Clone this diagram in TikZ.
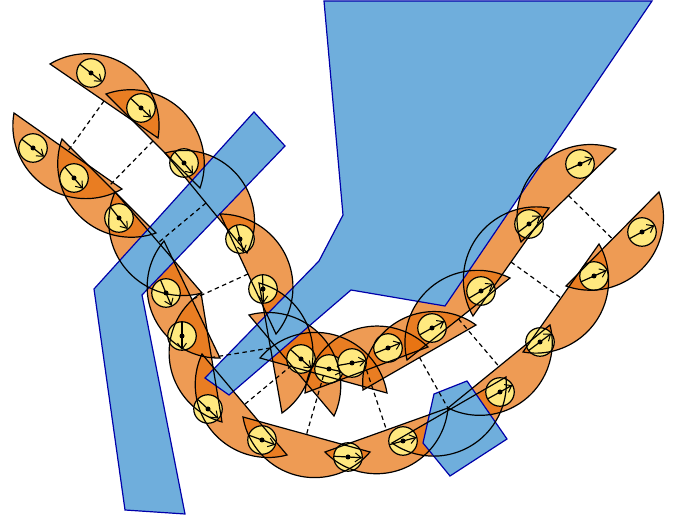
\documentclass[tikz,border=0pt]{standalone}
\usetikzlibrary{arrows.meta,calc}
\definecolor{wingfill}{RGB}{231,112,12}
\definecolor{wallfill}{RGB}{111,174,220}
\definecolor{walledge}{RGB}{0,0,170}
\definecolor{discfill}{RGB}{255,233,127}
\tikzset{
  wingarea/.style={fill=wingfill,fill opacity=.7,draw=none},
  wingline/.style={draw=black,line width=1.2pt,line join=miter,fill=none},
  wall/.style={fill=wallfill,draw=walledge,line width=1.2pt,line join=miter},
  disc/.style={circle,draw=black,line width=1.2pt,fill=discfill,minimum size=28.5pt,inner sep=0pt},
  hub/.style={circle,fill=black,minimum size=5pt,inner sep=0pt},
  needle/.style={draw=black,line width=1.2pt,-{Straight Barb[length=6pt,width=9pt,line width=1pt]}},
  rung/.style={draw=black,line width=1.2pt,dash pattern=on 4.5pt off 3.5pt}
}
\newcommand{\wingpath}[6]{% style, x1,y1,x2,y2, side(+1 left,-1 right)
  \pgfmathsetmacro\wXa{#2}\pgfmathsetmacro\wYa{516-#3}%
  \pgfmathsetmacro\wXb{#4}\pgfmathsetmacro\wYb{516-#5}%
  \pgfmathsetmacro\wC{veclen(\wXb-\wXa,\wYb-\wYa)}%
  \pgfmathsetmacro\wD{atan2(\wYb-\wYa,\wXb-\wXa)}%
  \pgfmathsetmacro\wT{2*atan(2*42/\wC)}%
  \pgfmathsetmacro\wR{\wC/(2*sin(\wT))}%
  \pgfmathsetmacro\wS{\wD+(#6)*(90+\wT)}%
  \pgfmathsetmacro\wE{\wD+(#6)*(90-\wT)}%
  \path[#1] (\wXa,\wYa) arc[start angle=\wS,end angle=\wE,radius=\wR] -- cycle;%
}
\newcommand{\wings}[1]{%
  \foreach \xa/\ya/\xb/\yb/\s in {
    50/64/158/138/1,106/94/200/188/1,165/153/247/253/1,220/214/276/334/1,
    259/283/282/413/1,249/315/334/416/1,260/358/387/393/1,305/393/428/347/1,
    363/390/476/325/1,407/360/510/278/1,473/316/549/208/1,521/242/616/149/1,
    14/113/122/189/-1,62/139/156/233/-1,115/192/202/293/-1,164/241/220/358/-1,
    201/293/222/422/-1,202/354/287/455/-1,243/417/370/452/-1,325/452/448/408/-1,
    392/443/506/377/-1,448/408/550/325/-1,523/352/599/244/-1,566/286/659/192/-1}
    {\wingpath{#1}{\xa}{\ya}{\xb}{\yb}{\s}}%
}
\begin{document}
\begin{tikzpicture}[x=1pt,y=1pt]
\useasboundingbox (0,0) rectangle (685,516);
% fills
\wings{wingarea}
% walls
\draw[wall] (324,515) -- (652,515) -- (445,210) -- (351,226) -- (229,121) -- (205,138) -- (319,255) -- (343,301) -- cycle;
\draw[wall] (254,404) -- (285,370) -- (142,221) -- (185,2) -- (125,6) -- (94,227) -- cycle;
\draw[wall] (467,135) -- (507,77) -- (450,40) -- (423,73) -- (434,122) -- cycle;
% discs
\foreach \n/\x/\y/\a in {
  a1/91/73/38,a2/141/108/43,a3/184/163/50,a4/240/239/75,a5/263/289/88,a6/301/359/42,
  a7/329/369/12,a8/352/363/-10,a9/388/348/-22,a10/432/328/-29,a11/481/291/-31,a12/529/224/-37,a13/580/164/-25,
  b1/33/148/38,b2/74/178/50,b3/119/218/52,b4/166/293/67,b5/182/336/90,b6/208/409/43,
  b7/262/440/20,b8/348/457/3,b9/403/441/-15,b10/500/392/-29,b11/540/342/-37,b12/594/276/-24,b13/642/232/-28}
{
  \pgfmathsetmacro\py{516-\y}
  \node[disc] (\n) at (\x,\py) {};
  \draw[needle] ($(\x,\py)+(-\a+180:14)$) -- ($(\x,\py)+(-\a:14)$);
  \node[hub] (\n h) at (\x,\py) {};
}
% outlines
\wings{wingline}
% rungs between chord midpoints
\foreach \xa/\ya/\xb/\yb/\xc/\yc/\xd/\yd in {
  50/64/158/138/14/113/122/189,106/94/200/188/62/139/156/233,165/153/247/253/115/192/202/293,
  220/214/276/334/164/241/220/358,259/283/282/413/201/293/222/422,249/315/334/416/202/354/287/455,
  260/358/387/393/243/417/370/452,305/393/428/347/325/452/448/408,363/390/476/325/392/443/506/377,
  407/360/510/278/448/408/550/325,473/316/549/208/523/352/599/244,521/242/616/149/566/286/659/192}
{
  \pgfmathsetmacro\mxa{(\xa+\xb)/2}\pgfmathsetmacro\mya{516-(\ya+\yb)/2}
  \pgfmathsetmacro\mxb{(\xc+\xd)/2}\pgfmathsetmacro\myb{516-(\yc+\yd)/2}
  \coordinate (p) at (\mxa,\mya);
  \coordinate (q) at (\mxb,\myb);
  \draw[rung] (p) -- (q);
}
\end{tikzpicture}
\end{document}
